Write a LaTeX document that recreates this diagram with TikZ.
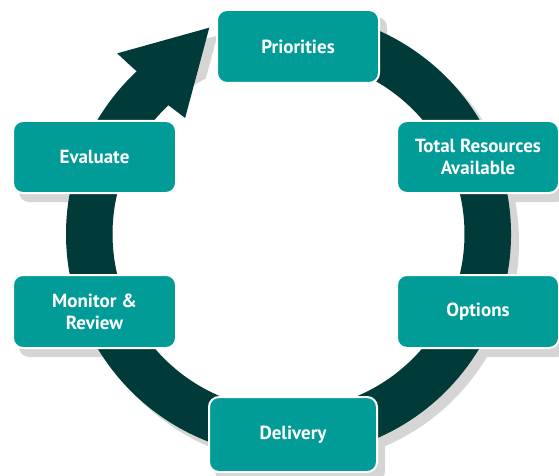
\documentclass[tikz,border=0pt]{standalone}
\usepackage{fontspec}
\setmainfont{PT Sans}
\usetikzlibrary{calc}
\definecolor{tealbox}{HTML}{029C98}
\definecolor{ringc}{HTML}{003B39}
\definecolor{shadowc}{HTML}{D5D5D5}
\pgfdeclarelayer{shad}
\pgfdeclarelayer{bg}
\pgfsetlayers{shad,bg,main}
\begin{document}
\begin{tikzpicture}[x=1pt,y=1pt,
  box/.style={rectangle, rounded corners=10pt, fill=tealbox, draw=white, line width=2pt,
    text=white, align=center, inner sep=0pt, font=\fontsize{19}{22}\selectfont\bfseries},
  boxshadow/.style={fill=shadowc, rounded corners=10pt}]
\useasboundingbox (0,0) rectangle (559,-476);

\node[box, minimum width=162pt, minimum height=73pt] (pri) at (298,-46.5) {Priorities};
\node[box, minimum width=163pt, minimum height=72pt] (eva) at (94.5,-157) {Evaluate};
\node[box, minimum width=162pt, minimum height=72pt] (tot) at (478,-157) {Total Resources\\Available};
\node[box, minimum width=163pt, minimum height=73pt] (mon) at (94.5,-311.5) {Monitor \&\\Review};
\node[box, minimum width=162pt, minimum height=73pt] (opt) at (478,-311.5) {Options};
\node[box, minimum width=168pt, minimum height=75pt] (del) at (293,-434.5) {Delivery};

\begin{pgfonlayer}{shad}
  \foreach \n in {pri,eva,tot,mon,opt,del}{
    \fill[boxshadow] ([shift={(7pt,-8pt)}]\n.south west) rectangle ([shift={(7pt,-8pt)}]\n.north east);
  }
\end{pgfonlayer}

\begin{pgfonlayer}{bg}
  \coordinate (c) at (288.5,-234);
  \begin{scope}[shift={($(c)+(8pt,-8pt)$)}]
    \fill[shadowc] (100:222.5pt) arc[start angle=100, end angle=-227, radius=222.5pt]
      -- (133.5:249pt) -- (111:221pt) -- (131.7:155.4pt) -- (133:176pt)
      arc[start angle=-227, end angle=100, radius=176pt] -- cycle;
  \end{scope}
  \fill[white] (c) circle[radius=176pt];
  \begin{scope}[shift={(c)}]
    \fill[ringc] (100:222.5pt) arc[start angle=100, end angle=-227, radius=222.5pt]
      -- (133.5:249pt) -- (111:221pt) -- (131.7:155.4pt) -- (133:176pt)
      arc[start angle=-227, end angle=100, radius=176pt] -- cycle;
  \end{scope}
\end{pgfonlayer}
\end{tikzpicture}
\end{document}
